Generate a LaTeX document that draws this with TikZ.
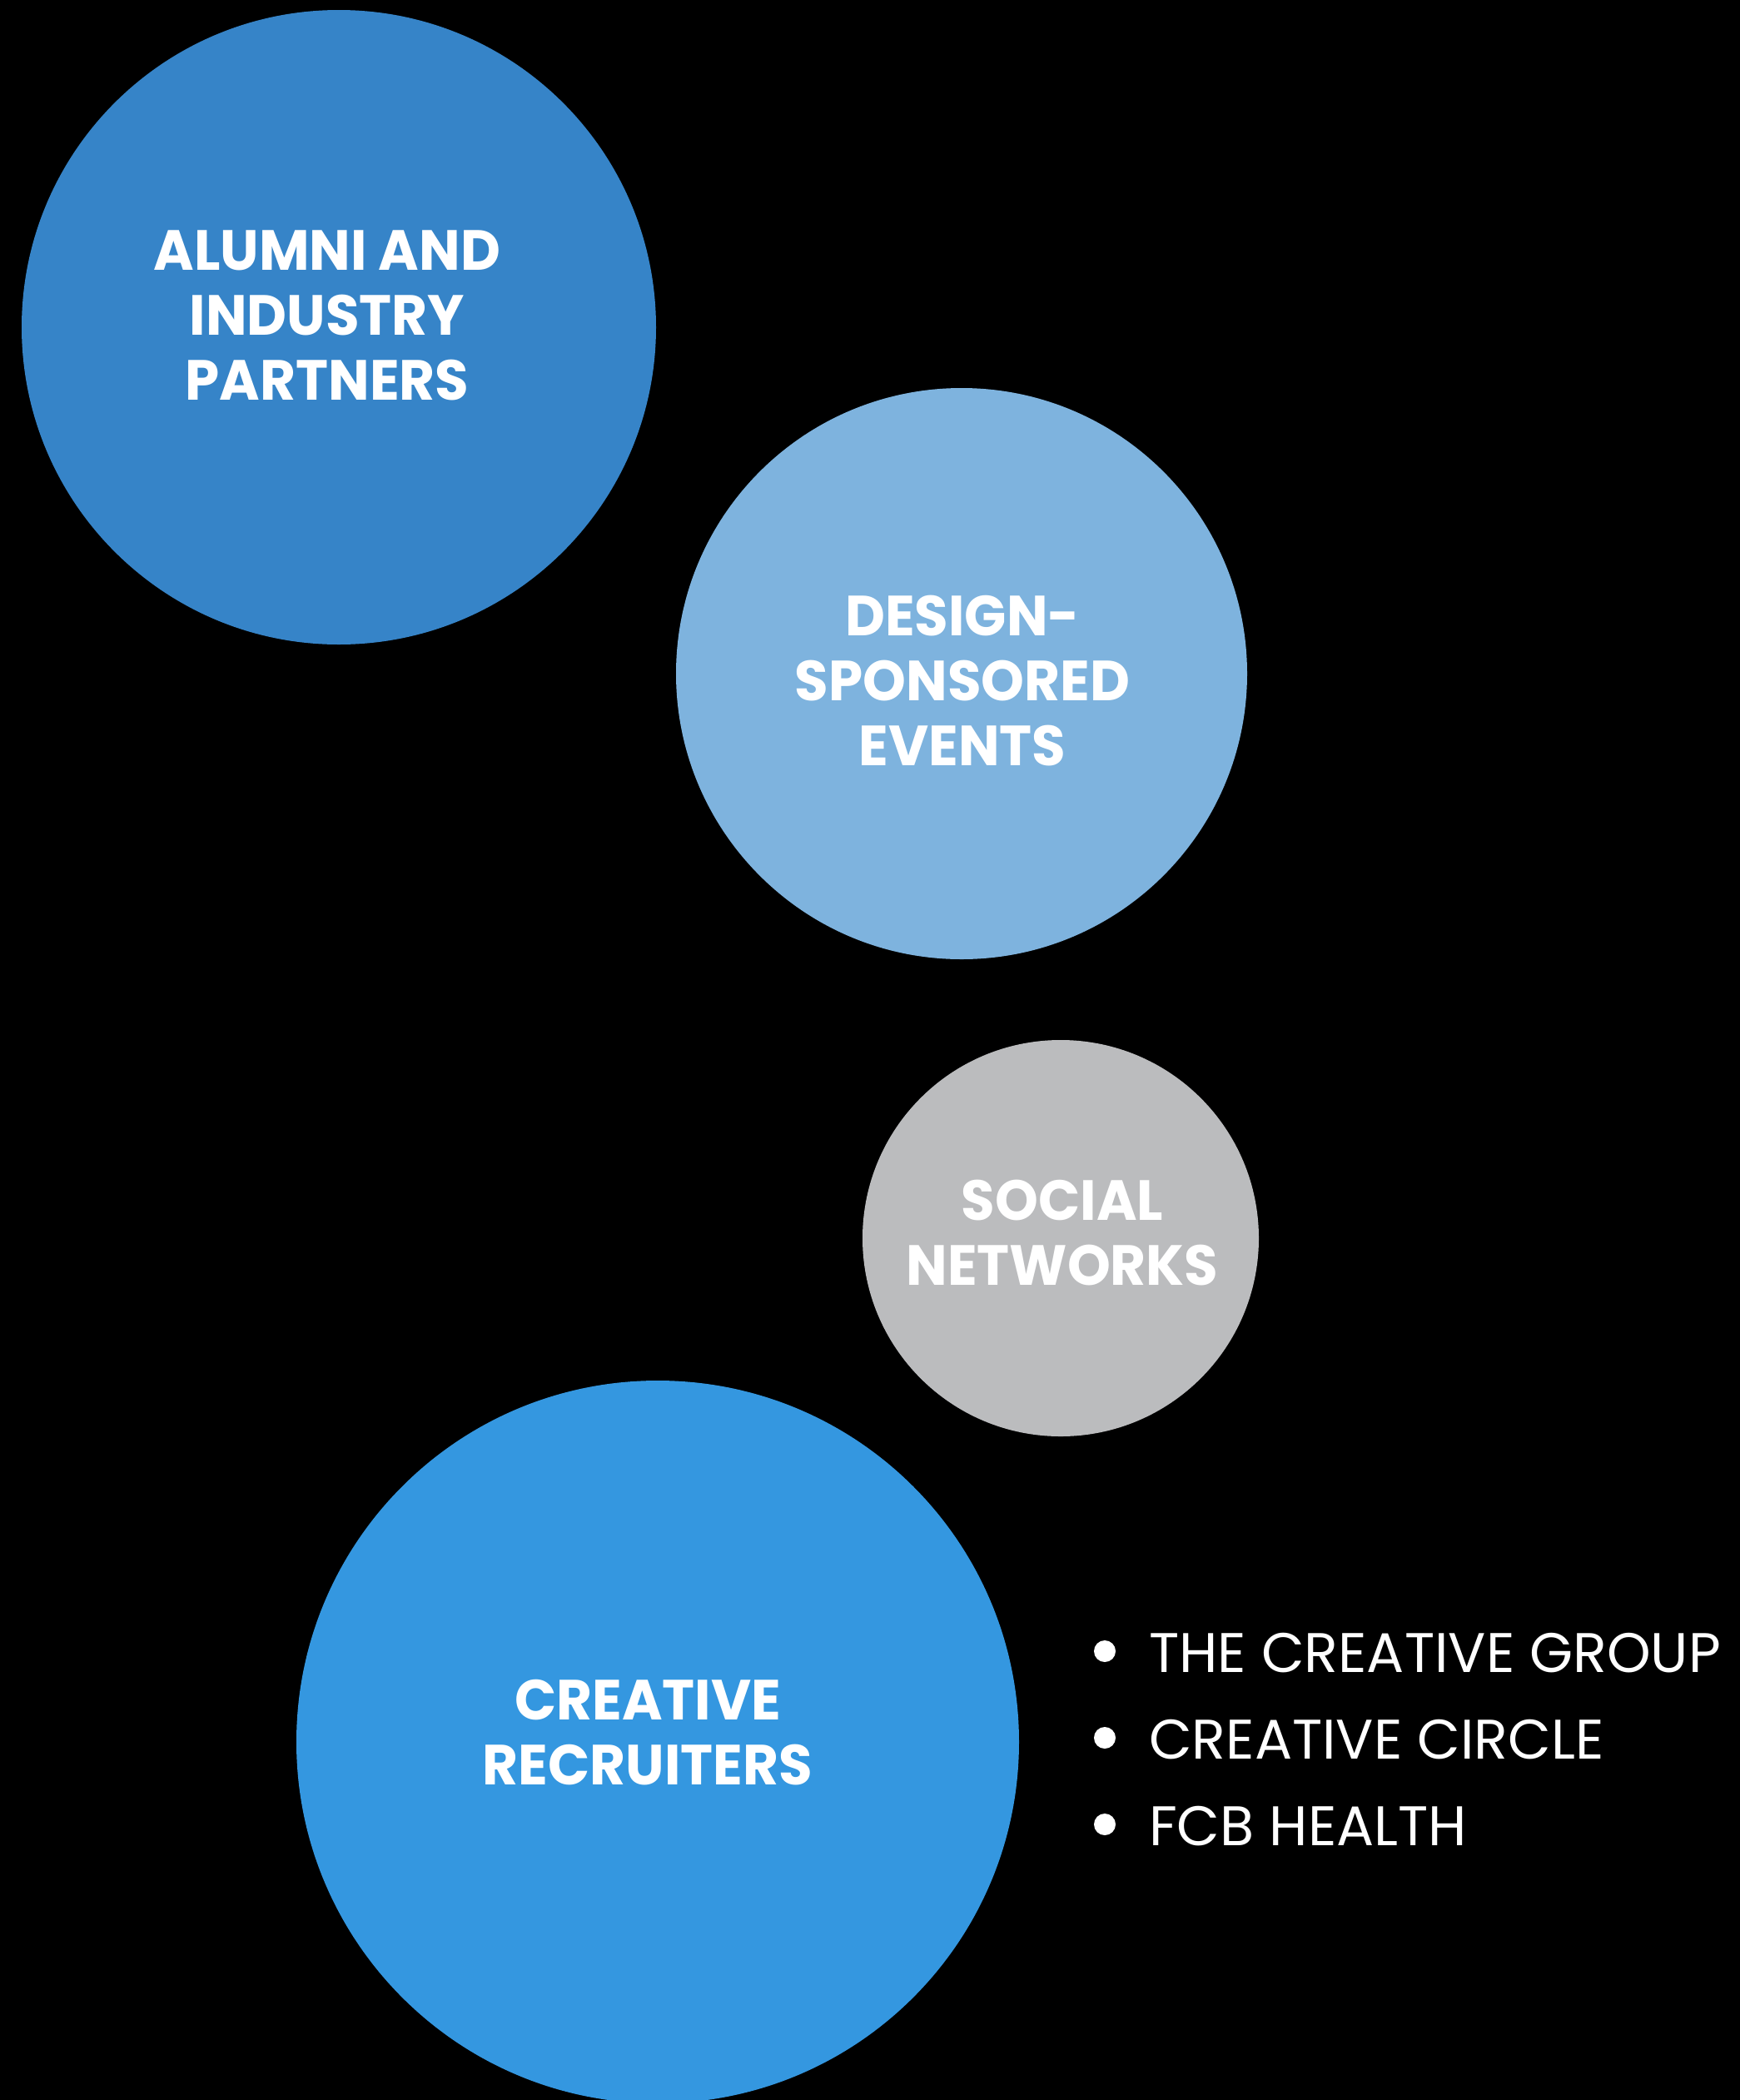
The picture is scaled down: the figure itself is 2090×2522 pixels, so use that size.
\documentclass[tikz,border=0pt]{standalone}
\usepackage{fontspec}
\setmainfont{Poppins}[BoldFeatures={FakeStretch=0.97}]
\newfontfamily\listfont{Poppins}

\definecolor{alumniblue}{HTML}{3684C8}
\definecolor{eventblue}{HTML}{7EB3DE}
\definecolor{socialgray}{HTML}{BBBCBE}
\definecolor{recruitblue}{HTML}{3497E0}

\begin{document}
\begin{tikzpicture}[x=1pt,y=-1pt,
    bubbletext/.style={text=white,align=center,inner sep=0pt,font=\bfseries\fontsize{68}{78}\selectfont},
    listtext/.style={text=white,anchor=base west,inner sep=0pt,font=\listfont\fontsize{67}{80}\selectfont},
    dot/.style={fill=white,circle,inner sep=0pt,minimum size=26pt}]
  \fill[black] (0,0) rectangle (2090,2522);
  \useasboundingbox (0,0) rectangle (2090,2522);
  % bubbles
  \fill[alumniblue] (407,393) circle (381);
  \fill[eventblue] (1155,809) circle (343);
  \fill[socialgray] (1274,1487) circle (238);
  \fill[recruitblue] (790,2092) circle (434);
  % bubble labels
  \node[bubbletext] (alumni) at (393,379) {ALUMNI AND\\INDUSTRY\\PARTNERS};
  \node[bubbletext] (events) at (1156,818) {DESIGN-\\SPONSORED\\EVENTS};
  \node[bubbletext] (social) at (1276,1481) {SOCIAL\\NETWORKS};
  \node[bubbletext] (recruiters) at (778,2081) {CREATIVE\\RECRUITERS};
  % recruiter list
  \foreach \name [count=\i] in {THE CREATIVE GROUP, CREATIVE CIRCLE, FCB HEALTH}{
    \node[dot] (dot\i) at (1327,1879+104*\i) {};
    \node[listtext] (item\i) at (1380,1904+104*\i) {\name};
  }
\end{tikzpicture}
\end{document}
